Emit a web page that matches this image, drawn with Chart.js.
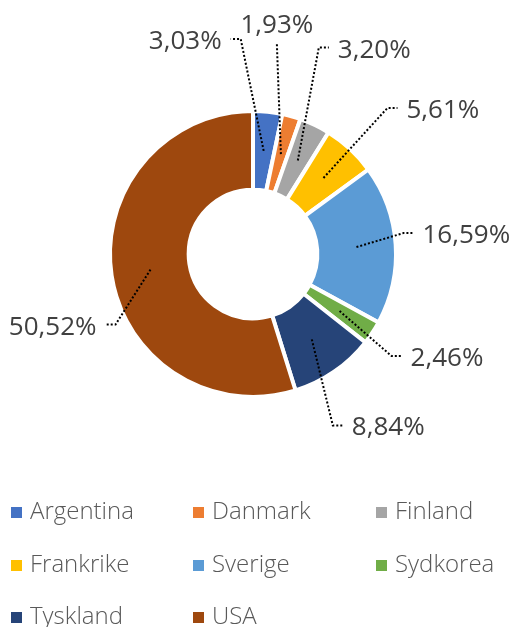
<!DOCTYPE html>
<html>
<head>
<meta charset="utf-8">
<script src="https://cdn.jsdelivr.net/npm/chart.js@4"></script>
<style>
  html, body { margin: 0; padding: 0; background: #fff; }
  #wrap { width: 515px; height: 627px; }
</style>
</head>
<body>
<div id="wrap"><canvas id="plot-share"></canvas></div>
<script>
let countries = ["Argentina", "Danmark", "Finland", "Frankrike", "Sverige", "Sydkorea", "Tyskland", "USA"];
let shares = [3.03, 1.93, 3.20, 5.61, 16.59, 2.46, 8.84, 50.52];
let shareLabels = ["3,03%", "1,93%", "3,20%", "5,61%", "16,59%", "2,46%", "8,84%", "50,52%"];
let colors = ["#4472C4", "#ED7D31", "#A5A5A5", "#FFC000", "#5B9BD5", "#70AD47", "#264478", "#9E480E"];

// where the dotted leader bends, relative to the slice anchor, and which side the text goes
let leaderDx = [-23, -4, 21, 64, 47, 52, 21, -35];
let leaderDy = [-112, -110, -113, -70, -14, 45, 86, 55];
let leaderSide = [-1, 0, 1, 1, 1, 1, 1, -1];

var leaderLabels = {
    id: 'leaderLabels',
    afterDatasetsDraw: function(chart) {
        var ctx = chart.ctx;
        var arcs = chart.getDatasetMeta(0).data;
        ctx.save();
        ctx.font = '26px "Open Sans"';
        ctx.fillStyle = '#404040';
        ctx.textBaseline = 'alphabetic';
        for (let i = 0; i < arcs.length; i++) {
            var a = arcs[i];
            var mid = (a.startAngle + a.endAngle) / 2;
            var r = (a.innerRadius + a.outerRadius) / 2;
            var ax = a.x + Math.cos(mid) * r;
            var ay = a.y + Math.sin(mid) * r;
            var ex = ax + leaderDx[i];
            var ey = ay + leaderDy[i];
            var side = leaderSide[i];
            var tx = ex + side * 10;

            ctx.beginPath();
            ctx.setLineDash([2, 2]);
            ctx.lineWidth = 2;
            ctx.strokeStyle = '#000';
            ctx.moveTo(ax, ay);
            ctx.lineTo(ex, ey);
            if (side !== 0) ctx.lineTo(tx, ey);
            ctx.stroke();

            if (side === 0) {
                ctx.textAlign = 'center';
                ctx.fillText(shareLabels[i], ex, ey - 11);
            } else if (side > 0) {
                ctx.textAlign = 'left';
                ctx.fillText(shareLabels[i], tx + 9, ey + 10);
            } else {
                ctx.textAlign = 'right';
                ctx.fillText(shareLabels[i], tx - 9, ey + 10);
            }
        }
        ctx.restore();
    }
};

var gridLegend = {
    id: 'gridLegend',
    afterDraw: function(chart) {
        var ctx = chart.ctx;
        var colX = [11, 193, 376];
        var rowY = [519, 572, 624];
        ctx.save();
        ctx.font = '300 24px "Open Sans"';
        ctx.textBaseline = 'alphabetic';
        ctx.textAlign = 'left';
        for (let i = 0; i < countries.length; i++) {
            var x = colX[i % 3];
            var y = rowY[Math.floor(i / 3)];
            ctx.fillStyle = colors[i];
            ctx.fillRect(x, y - 12, 11, 11);
            ctx.fillStyle = '#595959';
            ctx.fillText(countries[i], x + 19, y);
        }
        ctx.restore();
    }
};

var ctx = document.getElementById('plot-share').getContext('2d');

var graph_data = new Chart(ctx, {
    type: 'doughnut',
    data: {
        labels: countries,
        datasets: [{
            data: shares,
            backgroundColor: colors,
            borderColor: '#ffffff',
            borderWidth: 4
        }]
    },
    options: {
        responsive: true,
        maintainAspectRatio: false,
        animation: false,
        cutout: '45%',
        layout: {
            padding: { top: 109, bottom: 228, left: 108, right: 117 }
        },
        plugins: {
            legend: { display: false },
            tooltip: { enabled: false }
        }
    },
    plugins: [leaderLabels, gridLegend]
});
</script>
</body>
</html>
